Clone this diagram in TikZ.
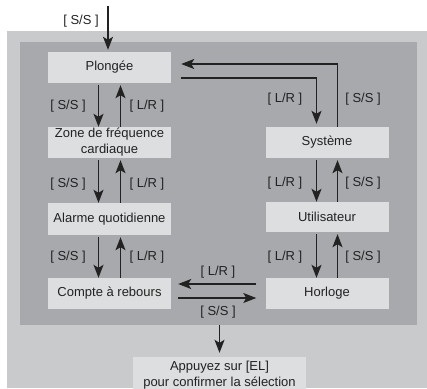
\documentclass[tikz,border=0pt]{standalone}
\usepackage{fontspec}
\setmainfont{Liberation Sans}
\usetikzlibrary{arrows.meta,calc}
\definecolor{outerg}{HTML}{C9CACC}
\definecolor{innerg}{HTML}{A8A9AC}
\definecolor{boxg}{HTML}{DDDEE0}
\definecolor{ink}{HTML}{222222}
\begin{document}
\begin{tikzpicture}[x=1pt,y=-1pt, font=\fontsize{13}{16}\selectfont,
  box/.style={fill=boxg, minimum width=123pt, minimum height=31pt, inner sep=0pt, align=center, text=ink},
  arr/.style={draw=ink, line width=1.3pt, -{Stealth[length=13pt,width=10pt,inset=3pt]}},
  lbl/.style={text=ink, inner sep=0pt}]
\useasboundingbox (0,0) rectangle (427,388);
\fill[outerg] (7,31) rectangle (427,388);
\node[fill=innerg, minimum width=397pt, minimum height=283pt, inner sep=0pt, anchor=north west] (panel) at (20,42) {};
% boxes
\node[box] (plong) at (109.5,67.5) {Plongée};
\node[box] (zone) at (109.5,142.5) {Zone de fréquence\\cardiaque};
\node[box, minimum height=32pt] (alarme) at (109.5,219) {Alarme quotidienne};
\node[box] (compte) at (109.5,293.5) {Compte à rebours};
\node[box] (sys) at (327,142.5) {Système};
\node[box, minimum height=30pt] (util) at (327,217) {Utilisateur};
\node[box] (horl) at (327,293.5) {Horloge};
\node[box, minimum width=173pt, minimum height=36pt] (appuy) at (219.5,375) {Appuyez sur [EL]\\pour confirmer la sélection};
% entry
\coordinate (entry) at (108,6);
\draw[arr, shorten >=2pt] (entry) -- (entry |- plong.north);
\node[lbl] at (81,21) {[ S/S ]};
% left column
\draw[arr, shorten <=2pt] ([xshift=-11pt]plong.south) -- ([xshift=-11pt]zone.north);
\draw[arr, shorten >=2pt] ([xshift=11pt]zone.north) -- ([xshift=11pt]plong.south);
\draw[arr, shorten <=2pt] ([xshift=-11pt]zone.south) -- ([xshift=-11pt]alarme.north);
\draw[arr, shorten >=2pt] ([xshift=11pt]alarme.north) -- ([xshift=11pt]zone.south);
\draw[arr, shorten <=2pt] ([xshift=-11pt]alarme.south) -- ([xshift=-11pt]compte.north);
\draw[arr, shorten >=2pt] ([xshift=11pt]compte.north) -- ([xshift=11pt]alarme.south);
\node[lbl] at (68,106) {[ S/S ]};
\node[lbl] at (147,106) {[ L/R ]};
\node[lbl] at (68,184) {[ S/S ]};
\node[lbl] at (147,184) {[ L/R ]};
\node[lbl] at (68,257) {[ S/S ]};
\node[lbl] at (147,257) {[ L/R ]};
% right column
\draw[arr, shorten <=2pt] ([xshift=-10.5pt]sys.south) -- ([xshift=-10.5pt]util.north);
\draw[arr, shorten >=2pt] ([xshift=10.5pt]util.north) -- ([xshift=10.5pt]sys.south);
\draw[arr, shorten <=2pt] ([xshift=-10.5pt]util.south) -- ([xshift=-10.5pt]horl.north);
\draw[arr, shorten >=2pt] ([xshift=10.5pt]horl.north) -- ([xshift=10.5pt]util.south);
\node[lbl] at (285,183) {[ L/R ]};
\node[lbl] at (363,183) {[ S/S ]};
\node[lbl] at (285,257) {[ L/R ]};
\node[lbl] at (363,257) {[ S/S ]};
% top loop
\draw[arr, shorten >=3pt] ([xshift=10pt,yshift=-10.5pt]plong.east) -| ([xshift=-10.5pt]sys.north);
\draw[arr] ([xshift=10.5pt]sys.north) |- ([xshift=10pt,yshift=3.5pt]plong.east);
\node[lbl] at (285,99) {[ L/R ]};
\node[lbl] at (363,99) {[ S/S ]};
% bottom horizontal
\draw[arr] ([xshift=-9pt,yshift=9.5pt]horl.west) -- ([xshift=7pt,yshift=9.5pt]compte.east);
\draw[arr] ([xshift=7pt,yshift=-4.5pt]compte.east) -- ([xshift=-9pt,yshift=-4.5pt]horl.west);
\node[lbl] at (218,272) {[ L/R ]};
\node[lbl] at (218,312) {[ S/S ]};
% exit
\draw[arr, shorten >=4pt] (appuy.north |- panel.south) -- (appuy.north);
\end{tikzpicture}
\end{document}
